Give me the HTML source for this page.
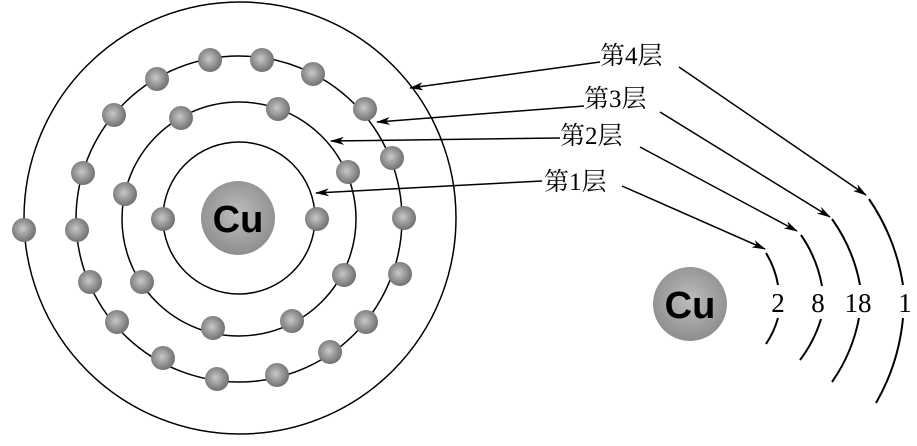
<!DOCTYPE html>
<html><head><meta charset="utf-8"><style>
html,body{margin:0;padding:0;background:#fff;}
svg{display:block;}
.lb{font-family:"Liberation Serif","Noto Serif CJK SC",serif;font-size:25px;fill:#000;}
.cu{font-family:"Liberation Sans","DejaVu Sans",sans-serif;font-weight:bold;font-size:38px;fill:#000;}
</style></head><body>
<svg width="917" height="446" viewBox="0 0 917 446" xmlns="http://www.w3.org/2000/svg">
<defs>
<radialGradient id="e" cx="0.45" cy="0.45" r="0.6">
<stop offset="0" stop-color="#c8c8c8"/><stop offset="0.6" stop-color="#8e8e8e"/><stop offset="1" stop-color="#6a6a6a"/></radialGradient>
<radialGradient id="n" cx="0.5" cy="0.45" r="0.6">
<stop offset="0" stop-color="#bdbdbd"/><stop offset="1" stop-color="#8a8a8a"/></radialGradient>
<marker id="a" markerWidth="14" markerHeight="8" refX="13" refY="4" orient="auto" markerUnits="userSpaceOnUse">
<path d="M0,0 L14,4 L0,8 L4,4 Z" fill="#000"/></marker>
</defs>
<g fill="none" stroke="#000" stroke-width="1.5">
<circle cx="239" cy="218" r="76"/>
<circle cx="239" cy="219" r="117"/>
<circle cx="239" cy="219" r="163"/>
<circle cx="240" cy="218" r="216"/>
</g>
<circle cx="238" cy="218" r="37" fill="url(#n)"/>
<text x="238" y="232" text-anchor="middle" class="cu">Cu</text>
<g fill="url(#e)">
<circle cx="163" cy="219" r="12"/><circle cx="317" cy="219" r="12"/>
<circle cx="181" cy="118" r="12"/><circle cx="278" cy="109" r="12"/><circle cx="348" cy="172" r="12"/><circle cx="125" cy="194" r="12"/><circle cx="142" cy="282" r="12"/><circle cx="344" cy="275" r="12"/><circle cx="213" cy="328" r="12"/><circle cx="292" cy="321" r="12"/>
<circle cx="210" cy="60" r="12"/><circle cx="262" cy="60" r="12"/><circle cx="313" cy="74" r="12"/><circle cx="157" cy="79" r="12"/><circle cx="114" cy="115" r="12"/><circle cx="365" cy="109" r="12"/><circle cx="392" cy="158" r="12"/><circle cx="83" cy="173" r="12"/><circle cx="77" cy="230" r="12"/><circle cx="404" cy="218" r="12"/><circle cx="400" cy="274" r="12"/><circle cx="90" cy="282" r="12"/><circle cx="117" cy="322" r="12"/><circle cx="366" cy="322" r="12"/><circle cx="163" cy="358" r="12"/><circle cx="330" cy="352" r="12"/><circle cx="217" cy="379" r="12"/><circle cx="277" cy="375" r="12"/>
<circle cx="24" cy="230" r="12"/>
</g>
<g stroke="#000" stroke-width="1.5" fill="none" marker-end="url(#a)">
<line x1="600" y1="62" x2="410" y2="88"/>
<line x1="584" y1="106" x2="377" y2="122"/>
<line x1="560" y1="138" x2="331" y2="141"/>
<line x1="542" y1="181" x2="316" y2="193"/>
<line x1="679" y1="67" x2="866" y2="195"/>
<line x1="660" y1="112" x2="830" y2="217"/>
<line x1="640" y1="147" x2="797" y2="231"/>
<line x1="622" y1="186" x2="765" y2="249"/>
</g>
<text x="600" y="64" class="lb">第4层</text>
<text x="584" y="107" class="lb">第3层</text>
<text x="560" y="144" class="lb">第2层</text>
<text x="544" y="190" class="lb">第1层</text>
<circle cx="690" cy="304" r="37" fill="url(#n)"/>
<text x="690" y="318" text-anchor="middle" class="cu">Cu</text>
<g stroke="#000" stroke-width="2" fill="none">
<path d="M766,253 A90,90 0 0 1 778,285"/><path d="M778,318 A90,90 0 0 1 766,344"/>
<path d="M801,235 A130,130 0 0 1 822,286"/><path d="M821,319 A130,130 0 0 1 800,360"/>
<path d="M832,219 A165,165 0 0 1 860,285"/><path d="M859,318 A165,165 0 0 1 832,382"/>
<path d="M869,199 A210,210 0 0 1 903,285"/><path d="M903,318 A210,210 0 0 1 876,403"/>
</g>
<g class="lb" text-anchor="middle" style="font-size:27px">
<text x="778" y="312">2</text><text x="818" y="312">8</text><text x="858" y="312">18</text><text x="905" y="312">1</text>
</g>
</svg>
</body></html>
